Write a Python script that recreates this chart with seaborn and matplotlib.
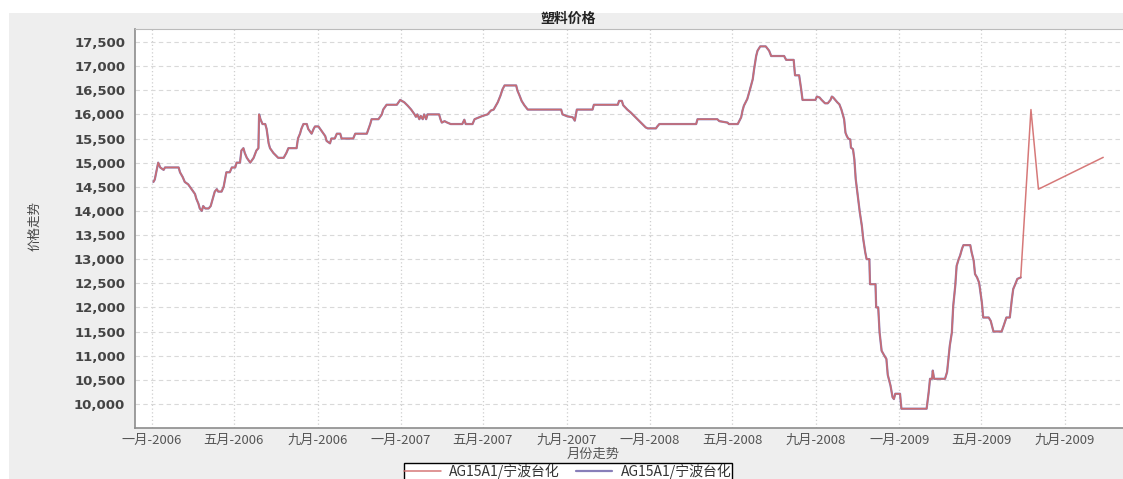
import pandas as pd
import matplotlib
matplotlib.use("Agg")
import matplotlib.pyplot as plt
from matplotlib.patches import Rectangle
from matplotlib.ticker import FuncFormatter
import seaborn as sns

dates = [
    "2006-01-03", "2006-01-05", "2006-01-10", "2006-01-13", "2006-01-18", "2006-01-20",
    "2006-02-09", "2006-02-11", "2006-02-15", "2006-02-18", "2006-02-23", "2006-02-28",
    "2006-03-05", "2006-03-07", "2006-03-10", "2006-03-12", "2006-03-15", "2006-03-17",
    "2006-03-20", "2006-03-25", "2006-03-28", "2006-03-31", "2006-04-03", "2006-04-06",
    "2006-04-08", "2006-04-13", "2006-04-16", "2006-04-20", "2006-04-25", "2006-04-28",
    "2006-05-03", "2006-05-05", "2006-05-10", "2006-05-12", "2006-05-15", "2006-05-17",
    "2006-05-20", "2006-05-25", "2006-05-30", "2006-06-03", "2006-06-06", "2006-06-07",
    "2006-06-09", "2006-06-12", "2006-06-16", "2006-06-18", "2006-06-21", "2006-06-23",
    "2006-06-28", "2006-07-05", "2006-07-13", "2006-07-17", "2006-07-20", "2006-08-01",
    "2006-08-03", "2006-08-06", "2006-08-08", "2006-08-11", "2006-08-16", "2006-08-18",
    "2006-08-23", "2006-08-26", "2006-08-28", "2006-09-02", "2006-09-07", "2006-09-12",
    "2006-09-14", "2006-09-19", "2006-09-21", "2006-09-26", "2006-09-29", "2006-10-04",
    "2006-10-06", "2006-10-23", "2006-10-26", "2006-11-12", "2006-11-17", "2006-11-19",
    "2006-11-29", "2006-12-04", "2006-12-06", "2006-12-11", "2006-12-26", "2006-12-31",
    "2007-01-06", "2007-01-11", "2007-01-16", "2007-01-21", "2007-01-23", "2007-01-25",
    "2007-01-28", "2007-01-30", "2007-02-02", "2007-02-04", "2007-02-07", "2007-02-09",
    "2007-02-26", "2007-02-28", "2007-03-02", "2007-03-06", "2007-03-10", "2007-03-15",
    "2007-04-01", "2007-04-04", "2007-04-06", "2007-04-16", "2007-04-19", "2007-04-26",
    "2007-05-01", "2007-05-08", "2007-05-13", "2007-05-17", "2007-05-23", "2007-05-27",
    "2007-05-30", "2007-06-02", "2007-06-19", "2007-06-21", "2007-06-24", "2007-06-27",
    "2007-07-01", "2007-07-06", "2007-08-24", "2007-08-26", "2007-09-02", "2007-09-10",
    "2007-09-13", "2007-09-16", "2007-10-09", "2007-10-11", "2007-11-15", "2007-11-17",
    "2007-11-21", "2007-11-23", "2007-11-29", "2007-12-04", "2007-12-09", "2007-12-14",
    "2007-12-19", "2007-12-26", "2007-12-29", "2008-01-10", "2008-01-12", "2008-01-15",
    "2008-03-09", "2008-03-11", "2008-04-09", "2008-04-12", "2008-04-24", "2008-04-26",
    "2008-05-09", "2008-05-14", "2008-05-16", "2008-05-18", "2008-05-23", "2008-05-27",
    "2008-05-31", "2008-06-02", "2008-06-05", "2008-06-07", "2008-06-11", "2008-06-19",
    "2008-06-24", "2008-06-27", "2008-07-16", "2008-07-19", "2008-07-30", "2008-08-01",
    "2008-08-07", "2008-08-10", "2008-08-12", "2008-08-31", "2008-09-02", "2008-09-06",
    "2008-09-09", "2008-09-14", "2008-09-18", "2008-09-22", "2008-09-24", "2008-09-26",
    "2008-09-29", "2008-10-02", "2008-10-05", "2008-10-08", "2008-10-10", "2008-10-12",
    "2008-10-14", "2008-10-16", "2008-10-18", "2008-10-21", "2008-10-22", "2008-10-25",
    "2008-10-27", "2008-10-29", "2008-11-01", "2008-11-04", "2008-11-07", "2008-11-09",
    "2008-11-12", "2008-11-14", "2008-11-18", "2008-11-19", "2008-11-27", "2008-11-28",
    "2008-12-01", "2008-12-03", "2008-12-06", "2008-12-10", "2008-12-13", "2008-12-15",
    "2008-12-19", "2008-12-22", "2008-12-24", "2008-12-26", "2009-01-02", "2009-01-04",
    "2009-02-10", "2009-02-13", "2009-02-15", "2009-02-18", "2009-02-19", "2009-02-21",
    "2009-03-09", "2009-03-12", "2009-03-14", "2009-03-16", "2009-03-19", "2009-03-21",
    "2009-03-24", "2009-03-26", "2009-03-29", "2009-03-31", "2009-04-03", "2009-04-05",
    "2009-04-15", "2009-04-17", "2009-04-20", "2009-04-22", "2009-04-25", "2009-04-28",
    "2009-05-02", "2009-05-04", "2009-05-12", "2009-05-15", "2009-05-19", "2009-05-31",
    "2009-06-03", "2009-06-07", "2009-06-12", "2009-06-15", "2009-06-17", "2009-06-20",
    "2009-06-23", "2009-06-28", "2009-07-13", "2009-07-24", "2009-10-27",
]
prices = [
    14600, 14650, 15000, 14900, 14850, 14900,
    14900, 14800, 14700, 14600, 14550, 14450,
    14350, 14250, 14150, 14050, 14000, 14100,
    14050, 14050, 14100, 14250, 14400, 14450,
    14400, 14400, 14500, 14800, 14800, 14900,
    14900, 15000, 15000, 15250, 15300, 15200,
    15100, 15000, 15100, 15250, 15300, 16000,
    15900, 15800, 15800, 15700, 15400, 15300,
    15200, 15100, 15100, 15200, 15300, 15300,
    15500, 15600, 15700, 15800, 15800, 15700,
    15600, 15700, 15750, 15750, 15650, 15550,
    15450, 15400, 15500, 15500, 15600, 15600,
    15500, 15500, 15600, 15600, 15800, 15900,
    15900, 16000, 16100, 16200, 16200, 16300,
    16250, 16180, 16100, 16000, 15950, 16000,
    15900, 15970, 15900, 16000, 15900, 16000,
    16000, 15900, 15830, 15860, 15830, 15800,
    15800, 15890, 15800, 15800, 15900, 15940,
    15970, 16000, 16080, 16100, 16250, 16390,
    16520, 16600, 16600, 16490, 16390, 16280,
    16190, 16100, 16100, 16000, 15960, 15940,
    15870, 16100, 16100, 16200, 16200, 16280,
    16280, 16190, 16100, 16040, 15970, 15900,
    15830, 15730, 15710, 15710, 15750, 15800,
    15800, 15900, 15900, 15860, 15830, 15800,
    15800, 15940, 16080, 16180, 16320, 16520,
    16730, 16940, 17210, 17320, 17410, 17410,
    17320, 17210, 17210, 17130, 17130, 16810,
    16810, 16520, 16300, 16300, 16370, 16350,
    16300, 16230, 16230, 16300, 16370, 16350,
    16300, 16250, 16210, 16100, 16000, 15900,
    15620, 15550, 15500, 15480, 15310, 15280,
    15070, 14660, 14310, 13970, 13690, 13420,
    13140, 13000, 13000, 12480, 12480, 12000,
    12000, 11480, 11100, 11000, 10930, 10600,
    10380, 10140, 10100, 10210, 10210, 9900,
    9900, 10240, 10520, 10520, 10690, 10520,
    10520, 10660, 10930, 11210, 11480, 12030,
    12450, 12860, 13000, 13070, 13220, 13290,
    13290, 13140, 12970, 12690, 12620, 12510,
    12100, 11790, 11790, 11720, 11500, 11500,
    11620, 11790, 11790, 12170, 12380, 12480,
    12590, 12620, 16100, 14450, 15110,
]
# second series stops at the end of June 2009
second_end = "2009-06-28"

series_name = "AG15A1/宁波台化"
month_names = {1: "一月", 5: "五月", 9: "九月"}
tick_years = [2006, 2007, 2008, 2009]

sns.set_style("white")
plt.rcParams['font.family'] = ['Noto Sans CJK SC', 'DejaVu Sans']

df = pd.DataFrame({"date": pd.to_datetime(dates), "price": prices})
df2 = df[df["date"] <= pd.Timestamp(second_end)]

W, H = 1123, 479
fig = plt.figure(figsize=(W / 100, H / 100), dpi=100)
fig.patch.set_facecolor("white")
fig.patches.append(Rectangle((9 / W, 0), 1, 1 - 13 / H, transform=fig.transFigure,
                             facecolor="#eeeeee", edgecolor="none", zorder=-5))
ax = fig.add_axes([135 / W, 1 - 428 / H, 1 - 135 / W, (428 - 29) / H])
ax.set_facecolor("white")

sns.lineplot(data=df2, x="date", y="price", ax=ax, color="#6a5fa8", lw=1.6,
             alpha=0.8, label=series_name, legend=False)
sns.lineplot(data=df, x="date", y="price", ax=ax, color="#d26a6a", lw=1.1,
             alpha=0.9, label=series_name, legend=False)

ax.set_xlim(pd.Timestamp("2005-12-07"), pd.Timestamp("2009-11-25"))
ax.set_ylim(9500, 17770)
ax.set_yticks(range(10000, 17501, 500))
ax.yaxis.set_major_formatter(FuncFormatter(lambda v, _: f"{v:,.0f}"))

ticks = [pd.Timestamp(year=y, month=m, day=1) for y in tick_years for m in (1, 5, 9)]
ax.set_xticks(ticks)
ax.set_xticklabels([f"{month_names[t.month]}-{t.year}" for t in ticks])

for lab in ax.get_yticklabels():
    lab.set_fontfamily("DejaVu Sans")
    lab.set_fontweight("bold")
    lab.set_fontsize(9.5)
    lab.set_color("#444444")
for lab in ax.get_xticklabels():
    lab.set_fontsize(9.5)
    lab.set_color("#555555")

ax.tick_params(axis="both", direction="out", length=4, width=0.8, color="#888888", pad=3)
ax.tick_params(axis="x", pad=0)
ax.grid(axis="y", color="#d9d9d9", ls=(0, (4, 3)), lw=0.8)
ax.grid(axis="x", color="#cfcfcf", ls=(0, (1, 2)), lw=0.9)
for side in ["left", "bottom"]:
    ax.spines[side].set_color("#8c8c8c")
    ax.spines[side].set_linewidth(1.2)
ax.spines["top"].set_color("#bbbbbb")
ax.spines["right"].set_visible(False)

ax.set_xlabel("")
ax.set_ylabel("")
fig.text(568 / W, 1 - 19 / H, "塑料价格", ha="center", va="center",
         fontsize=10, fontweight="bold", color="#222222")
fig.text(35 / W, 1 - 226 / H, "价格走势", rotation=90, ha="center", va="center",
         fontsize=9, color="#444444")
fig.text(593 / W, 1 - 454 / H, "月份走势", ha="center", va="center",
         fontsize=9.5, color="#555555")

handles, labels = ax.get_legend_handles_labels()
handles = handles[::-1]
leg = fig.legend(handles, [series_name, series_name], loc="upper center",
                 bbox_to_anchor=(568 / W, 1 - 463 / H), ncol=2, frameon=True,
                 fancybox=False, edgecolor="black", framealpha=1, fontsize=10,
                 handlelength=2.6, columnspacing=1.2, borderpad=0.05,
                 borderaxespad=0, handletextpad=0.6)
leg.get_frame().set_linewidth(1.0)
for t in leg.get_texts():
    t.set_color("#333333")

fig.savefig("out.png", dpi=100)
